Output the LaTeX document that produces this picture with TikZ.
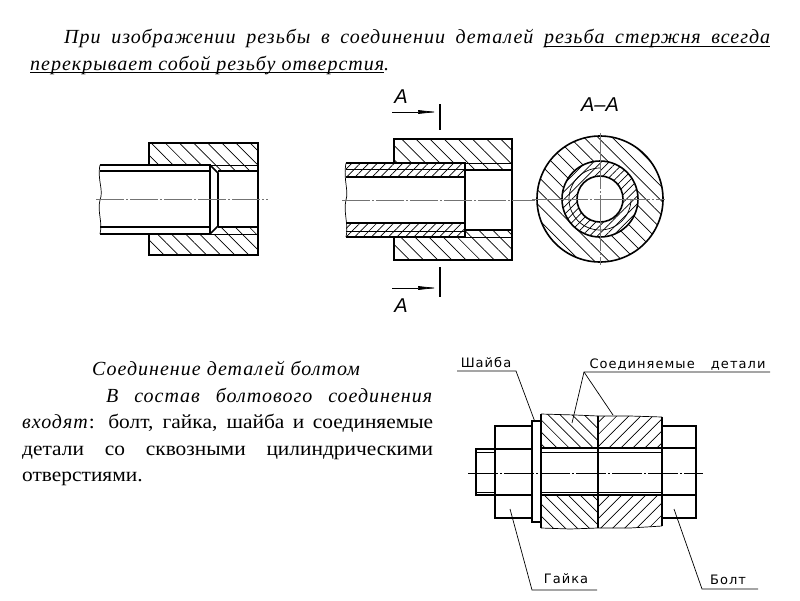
\documentclass[tikz,border=0pt]{standalone}
\usepackage{fontspec}
\setmainfont{Liberation Serif}[UprightFeatures={FakeStretch=1.07},ItalicFeatures={LetterSpace=5}]
\newfontfamily\labelfont[LetterSpace=8]{DejaVu Sans}
\newfontfamily\letterfont{Liberation Sans}
\usetikzlibrary{arrows.meta,patterns.meta}
% underlined words and the stretching gaps between them
\newsavebox\uwordbox
\newcommand\urule{\leaders\hrule height -2.4pt depth 3.2pt}
\newcommand\uword[1]{\sbox\uwordbox{#1}\rlap{\usebox\uwordbox}\urule\hskip\wd\uwordbox\relax\kern0pt\relax}
\newcommand\ugap{\urule\hskip\fontdimen2\font plus\fontdimen3\font minus\fontdimen4\font\relax}
\tikzset{%
	thick line/.style = {line width=1.6pt, black},
	thin line/.style = {line width=0.7pt, black},
	center line/.style = {line width=0.7pt, black!55, dash pattern=on 28pt off 2pt on 2pt off 2pt},
	hatch left/.style = {pattern={Lines[angle=-45,distance=#1,line width=0.7pt]}},
	hatch left/.default = 10pt,
	hatch right/.style = {pattern={Lines[angle=45,distance=#1,line width=0.7pt]}},
	hatch right/.default = 6pt,
	text block/.style = {anchor=north west, inner sep=0pt, align=justify, font=\fontsize{20}{26.5}\selectfont},
	detail label/.style = {inner sep=0pt, font=\fontsize{13}{15}\labelfont},
	cut letter/.style = {inner sep=0pt, font=\fontsize{20}{22}\letterfont\itshape}
}
\begin{document}
\begin{tikzpicture}[x=1pt,y=-1pt]
    \useasboundingbox (0,0) rectangle (800,600);
    % Texts
    \node (intro) [text block, text width=740pt] at (30,29)
        {\hspace*{34pt}\textit{При изображении резьбы в соединении деталей \uword{резьба}\ugap\uword{стержня}\ugap\uword{всегда}\linebreak
        \uword{перекрывает}\ugap\uword{собой}\ugap\uword{резьбу}\ugap\uword{отверстия}.}};
    \node (bolted) [text block, text width=411pt] at (22,361)
        {\hspace*{70pt}\textit{Соединение деталей болтом}\\
        \hspace*{84pt}\textit{В состав болтового соединения}\linebreak
        \textit{входят}: болт, гайка, шайба и соединяемые\linebreak
        детали со сквозными цилиндрическими\linebreak
        отверстиями.};

    % Left view: stud in the threaded hole
    \path[hatch left] (149,143) rectangle (258,165);
    \path[hatch left] (210,165) rectangle (258,171);
    \path[hatch left] (149,234) rectangle (258,255);
    \path[hatch left] (218,227) rectangle (258,234);
    \draw[thick line] (149,165) -- (149,143) -- (258,143) -- (258,255) -- (149,255) -- (149,234);
    \draw[thin line] (210,165) -- (258,165) (210,234) -- (258,234);
    \draw[thick line] (218,171) -- (258,171) (218,227) -- (258,227);
    \draw[thick line] (100,165) -- (210,165) -- (210,234) -- (100,234);
    \draw[thick line] (100,171) -- (210,171) (100,227) -- (210,227);
    \draw[thick line] (210,165) -- (218,173) -- (218,226) -- (210,234);
    \draw[thin line] (100,165) .. controls (97,180) and (104,190) .. (100,200) .. controls (97,212) and (103,222) .. (100,234);
    \draw[center line] (96,199) -- (268,199);

    % Middle view: section of the joint
    \path[hatch left] (394,139) rectangle (512,163);
    \path[hatch left] (465,163) rectangle (512,170);
    \path[hatch left] (394,237) rectangle (512,260);
    \path[hatch left] (465,230) rectangle (512,237);
    \path[hatch right] (346,163) rectangle (465,177);
    \path[hatch right] (346,223) rectangle (465,237);
    \draw[thick line] (394,163) -- (394,139) -- (512,139) -- (512,260) -- (394,260) -- (394,237);
    \draw[thin line] (465,163) -- (512,163) (465,237) -- (512,237);
    \draw[thick line] (465,170) -- (512,170) (465,230) -- (512,230);
    \draw[thick line] (346,163) -- (465,163) -- (465,237) -- (346,237);
    \draw[thick line] (346,177) -- (465,177) (346,223) -- (465,223);
    \draw[thin line] (346,169) -- (465,169) (346,231) -- (465,231);
    \draw[thin line] (346,163) .. controls (343,180) and (349,190) .. (346,200) .. controls (343,212) and (349,225) .. (346,237);
    \draw[center line] (342,200) -- (535,200);

    % Section marks
    \coordinate (cutTopStart) at (392,112);
    \coordinate (cutTopEnd) at (440,112);
    \coordinate (cutBottomStart) at (392,288);
    \coordinate (cutBottomEnd) at (440,288);
    \draw[thin line, -{Latex[length=22pt,width=4pt]}] (cutTopStart) -- (cutTopEnd);
    \draw[thin line, -{Latex[length=22pt,width=4pt]}] (cutBottomStart) -- (cutBottomEnd);
    \draw[thick line] (440,104) -- (440,130);
    \draw[thick line] (440,267) -- (440,297);
    \node (cutTop) [cut letter] at (401,97) {А};
    \node (cutBottom) [cut letter] at (401,306) {А};

    % Section A-A
    \node (cutName) [cut letter] at (600,105) {А–А};
    \path[hatch left, even odd rule] (600,199) circle (63) (600,199) circle (38);
    \path[hatch right=5.5pt, even odd rule] (600,199) circle (38) (600,199) circle (23);
    \draw[thin line] (600,199) ++(0:31) arc (0:270:31);
    \draw[thick line] (600,199) circle (63);
    \draw[thick line] (600,199) circle (38);
    \draw[thick line] (600,199) circle (23);
    \draw[center line, dash pattern=on 56pt off 2pt on 2pt off 2pt] (532,199) -- (665,199);
    \draw[center line, dash pattern=on 56pt off 2pt on 2pt off 2pt] (600,133) -- (600,265);

    % Bolted joint
    \path[hatch left=8.5pt] (541,414) -- (575,415) -- (598,416) -- (598,448) -- (541,448) -- cycle;
    \path[hatch right=8.5pt] (598,416) -- (630,416) -- (662,417) -- (662,448) -- (598,448) -- cycle;
    \path[hatch left=8.5pt] (541,495) -- (598,495) -- (598,528) -- (570,529) -- (541,528) -- cycle;
    \path[hatch right=8.5pt] (598,495) -- (662,495) -- (662,526) -- (630,528) -- (598,528) -- cycle;
    \draw[thin line] (541,414) -- (575,415) -- (598,416) -- (630,416) -- (662,417);
    \draw[thin line] (541,528) -- (570,529) -- (598,528) -- (630,528) -- (662,526);
    \draw[thick line] (662,417) -- (662,526);
    \draw[thick line] (541,414) -- (541,528);
    \draw[thick line] (598,416) -- (598,528);
    \draw[thick line] (541,448) -- (662,448) (541,495) -- (662,495);
    \draw[thin line] (541,452) -- (662,452) (541,492) -- (662,492);
    \draw[thick line] (532,421) rectangle (541,522);
    \draw[thick line] (532,426) -- (495,426) -- (495,518) -- (532,518);
    \draw[thick line] (662,426) -- (696,426) -- (696,518) -- (662,518);
    \draw[thick line] (476,449) rectangle (532,495);
    \draw[thick line] (662,448) -- (696,448) (662,495) -- (696,495);
    \draw[thin line] (476,452) -- (495,452) (476,492) -- (495,492);
    \draw[center line, black, dash pattern=on 30pt off 2pt on 2pt off 2pt] (468,473) -- (703,473);

    % Leaders
    \node (washer) [detail label] at (486,363) {Шайба};
    \node (parts) [detail label] at (677.5,365) {Соединяемые\hspace{11pt} детали};
    \node (nut) [detail label] at (566,579) {Гайка};
    \node (bolt) [detail label] at (728,580) {Болт};

    \coordinate (washerStart) at (457,371);
    \coordinate (washerKnee) at (516,371);
    \coordinate (washerEnd) at (535,422);
    \coordinate (partsKnee) at (584,372);
    \coordinate (partsEnd) at (770,372);
    \coordinate (partLeft) at (572,423);
    \coordinate (partRight) at (613,415);
    \coordinate (nutStart) at (510,509);
    \coordinate (nutKnee) at (532,590);
    \coordinate (nutEnd) at (597,590);
    \coordinate (boltStart) at (674,509);
    \coordinate (boltKnee) at (702,589);
    \coordinate (boltEnd) at (758,589);

    \draw[thin line] (washerStart) -- (washerKnee) -- (washerEnd);
    \draw[thin line] (partsEnd) -- (partsKnee) -- (partLeft);
    \draw[thin line] (partsKnee) -- (partRight);
    \draw[thin line] (nutStart) -- (nutKnee) -- (nutEnd);
    \draw[thin line] (boltStart) -- (boltKnee) -- (boltEnd);

\end{tikzpicture}
\end{document}
